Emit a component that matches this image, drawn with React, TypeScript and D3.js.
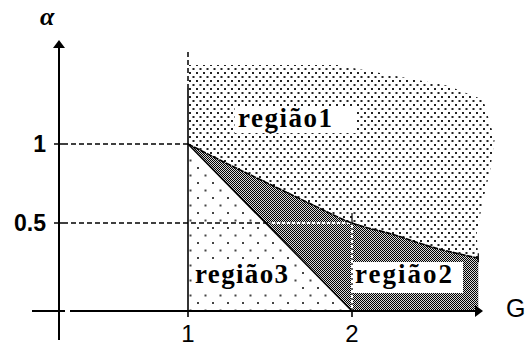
import React from "react";
import * as d3 from "d3";

// Boundary between região 1 and the shaded band: α as a function of G
const curveG = [1, 1.25, 1.5, 1.75, 2, 2.25, 2.5, 2.77];
const curveAlpha = [1, 0.87, 0.745, 0.62, 0.5, 0.435, 0.36, 0.3];

// Outer (free-hand) outline of região 1, clockwise from the top-left corner
const region1G = [1, 1.91, 2.17, 2.58, 2.8, 2.87, 2.84, 2.8, 2.76, 2.77];
const region1Alpha = [1.5, 1.5, 1.45, 1.37, 1.28, 1.03, 0.82, 0.65, 0.44, 0.3];

// Axis tick values and labels
const xTicks = [1, 2];
const xTickLabels = ["1", "2"];
const yTicks = [1, 0.5];
const yTickLabels = ["1", "0.5"];

const regionLabels = ["região1", "região2", "região3"];

const W = 525;
const H = 346;

export default function App() {
  const x = d3.scaleLinear().domain([1, 2]).range([188, 352]);
  const y = d3.scaleLinear().domain([0, 0.5, 1]).range([311, 223, 144]);

  const axisX = 59; // where the α axis is drawn
  const y0 = y(0);

  const curvePts: [number, number][] = curveG.map((g, i) => [g, curveAlpha[i]]);
  const line = d3
    .line<[number, number]>()
    .x((d) => x(d[0]))
    .y((d) => y(d[1]))
    .curve(d3.curveCatmullRom.alpha(0.5));
  const poly = d3
    .line<[number, number]>()
    .x((d) => x(d[0]))
    .y((d) => y(d[1]));

  const gEnd = curveG[curveG.length - 1];
  const aEnd = curveAlpha[curveAlpha.length - 1];

  // região 1: free outline down to the curve, then back along the curve
  const r1Outline: [number, number][] = region1G.map((g, i) => [g, region1Alpha[i]]);
  const curveRev = [...curvePts].reverse();
  const r1Path = poly(r1Outline)! + line(curveRev)!.replace(/^M/, "L") + "Z";

  // shaded band: along the curve, down to α = 0, back to G = 2, up the diagonal
  const bandPath =
    line(curvePts)! +
    poly([
      [gEnd, aEnd],
      [gEnd, 0],
      [2, 0],
      [1, 1],
    ])!.replace(/^M/, "L") +
    "Z";

  // região 3 triangle
  const r3Path =
    poly([
      [1, 1],
      [1, 0],
      [2, 0],
    ])! + "Z";

  const sans = "'Liberation Sans', Arial, sans-serif";
  const serif = "'Liberation Serif', 'Times New Roman', serif";

  const xHalf = x(1.5);

  return (
    <svg
      width={W}
      height={H}
      viewBox={`0 0 ${W} ${H}`}
      style={{ position: "absolute", left: 0, top: 0, background: "#fff" }}
    >
      <defs>
        <pattern id="dense" width={7} height={8} patternUnits="userSpaceOnUse">
          <rect x={0} y={0} width={2} height={2} fill="#222" />
          <rect x={3.5} y={4} width={2} height={2} fill="#222" />
        </pattern>
        <pattern id="sparse" width={15} height={15} patternUnits="userSpaceOnUse">
          <rect x={2} y={2} width={2} height={2} fill="#444" />
          <rect x={9.5} y={9.5} width={2} height={2} fill="#444" />
        </pattern>
        <pattern id="checker" width={2} height={2} patternUnits="userSpaceOnUse">
          <rect x={0} y={0} width={2} height={2} fill="#d8d8d8" />
          <rect x={0} y={0} width={1} height={1} fill="#000" />
          <rect x={1} y={1} width={1} height={1} fill="#000" />
        </pattern>
      </defs>

      {/* filled regions */}
      <path d={r1Path} fill="url(#dense)" />
      <path d={r3Path} fill="url(#sparse)" />
      <path d={bandPath} fill="url(#checker)" />

      {/* guide lines at α = 1 and α = 0.5 */}
      <line x1={axisX + 4} x2={x(1)} y1={y(1)} y2={y(1)} stroke="#000" strokeWidth={1.5} strokeDasharray="5 3" />
      <line x1={axisX + 4} x2={xHalf} y1={y(0.5)} y2={y(0.5)} stroke="#000" strokeWidth={1.5} strokeDasharray="5 3" />
      <line x1={xHalf} x2={x(2)} y1={y(0.5)} y2={y(0.5)} stroke="#fff" strokeWidth={2} />
      <line x1={xHalf} x2={x(2)} y1={y(0.5)} y2={y(0.5)} stroke="#000" strokeWidth={1.2} strokeDasharray="2 3" />

      {/* vertical at G = 2 */}
      <line x1={x(2)} x2={x(2)} y1={y(0.5) - 10} y2={y(0.5)} stroke="#000" strokeWidth={1.2} />
      <line x1={x(2)} x2={x(2)} y1={y(0.5)} y2={y0} stroke="#fff" strokeWidth={2} />
      <line x1={x(2)} x2={x(2)} y1={y(0.5)} y2={y0} stroke="#000" strokeWidth={1.2} strokeDasharray="2 3" />

      {/* vertical at G = 1 */}
      <line x1={x(1)} x2={x(1)} y1={52} y2={88} stroke="#000" strokeWidth={1.5} strokeDasharray="5 3" />
      <line x1={x(1)} x2={x(1)} y1={88} y2={y0} stroke="#000" strokeWidth={1.6} />

      {/* region boundaries */}
      <path d={line(curvePts)!} fill="none" stroke="#000" strokeWidth={1.6} strokeDasharray="6 1" />
      <path d={poly([[1, 1], [2, 0]])!} fill="none" stroke="#000" strokeWidth={1.6} />
      <line x1={x(gEnd)} x2={x(gEnd)} y1={y(aEnd) - 5} y2={y(aEnd) + 4} stroke="#000" strokeWidth={1.2} />

      {/* region labels */}
      <rect x={235} y={108} width={121} height={25} fill="#fff" />
      <text x={238} y={127} fontFamily={serif} fontWeight="bold" fontSize={27} textLength={94} lengthAdjust="spacing">
        {regionLabels[0]}
      </text>
      <rect x={353} y={262} width={110} height={31} fill="#fff" />
      <text x={355} y={283} fontFamily={serif} fontWeight="bold" fontSize={27} textLength={97} lengthAdjust="spacing">
        {regionLabels[1]}
      </text>
      <rect x={193} y={263} width={98} height={27} fill="#fff" />
      <text x={195} y={283} fontFamily={serif} fontWeight="bold" fontSize={27} textLength={93} lengthAdjust="spacing">
        {regionLabels[2]}
      </text>

      {/* α axis */}
      <line x1={axisX} x2={axisX} y1={46} y2={340} stroke="#000" strokeWidth={2} />
      <path d={`M${axisX},40 L${axisX - 6},48 L${axisX + 6},48 Z`} fill="#000" />
      {yTicks.map((t) => (
        <line key={t} x1={axisX - 5} x2={axisX + 4} y1={y(t)} y2={y(t)} stroke="#000" strokeWidth={1.5} />
      ))}
      {yTicks.map((t, i) => (
        <text key={t} x={46} y={y(t) + 8} textAnchor="end" fontFamily={sans} fontWeight="bold" fontSize={23}>
          {yTickLabels[i]}
        </text>
      ))}
      <text x={40} y={25} fontFamily={serif} fontStyle="italic" fontWeight="bold" fontSize={26}>
        α
      </text>

      {/* G axis */}
      <line x1={32} x2={axisX + 6} y1={y0} y2={y0} stroke="#000" strokeWidth={2} />
      <line x1={axisX + 11} x2={476} y1={y0} y2={y0} stroke="#000" strokeWidth={2} />
      <path d={`M483,${y0} L475,${y0 - 6} L475,${y0 + 6} Z`} fill="#000" />
      {xTicks.map((t) => (
        <line key={t} x1={x(t)} x2={x(t)} y1={y0} y2={y0 + 6} stroke="#000" strokeWidth={1.6} />
      ))}
      {xTicks.map((t, i) => (
        <text key={t} x={x(t)} y={342} textAnchor="middle" fontFamily={sans} fontSize={24}>
          {xTickLabels[i]}
        </text>
      ))}
      <text x={506} y={317} fontFamily={sans} fontSize={25}>
        G
      </text>
    </svg>
  );
}
